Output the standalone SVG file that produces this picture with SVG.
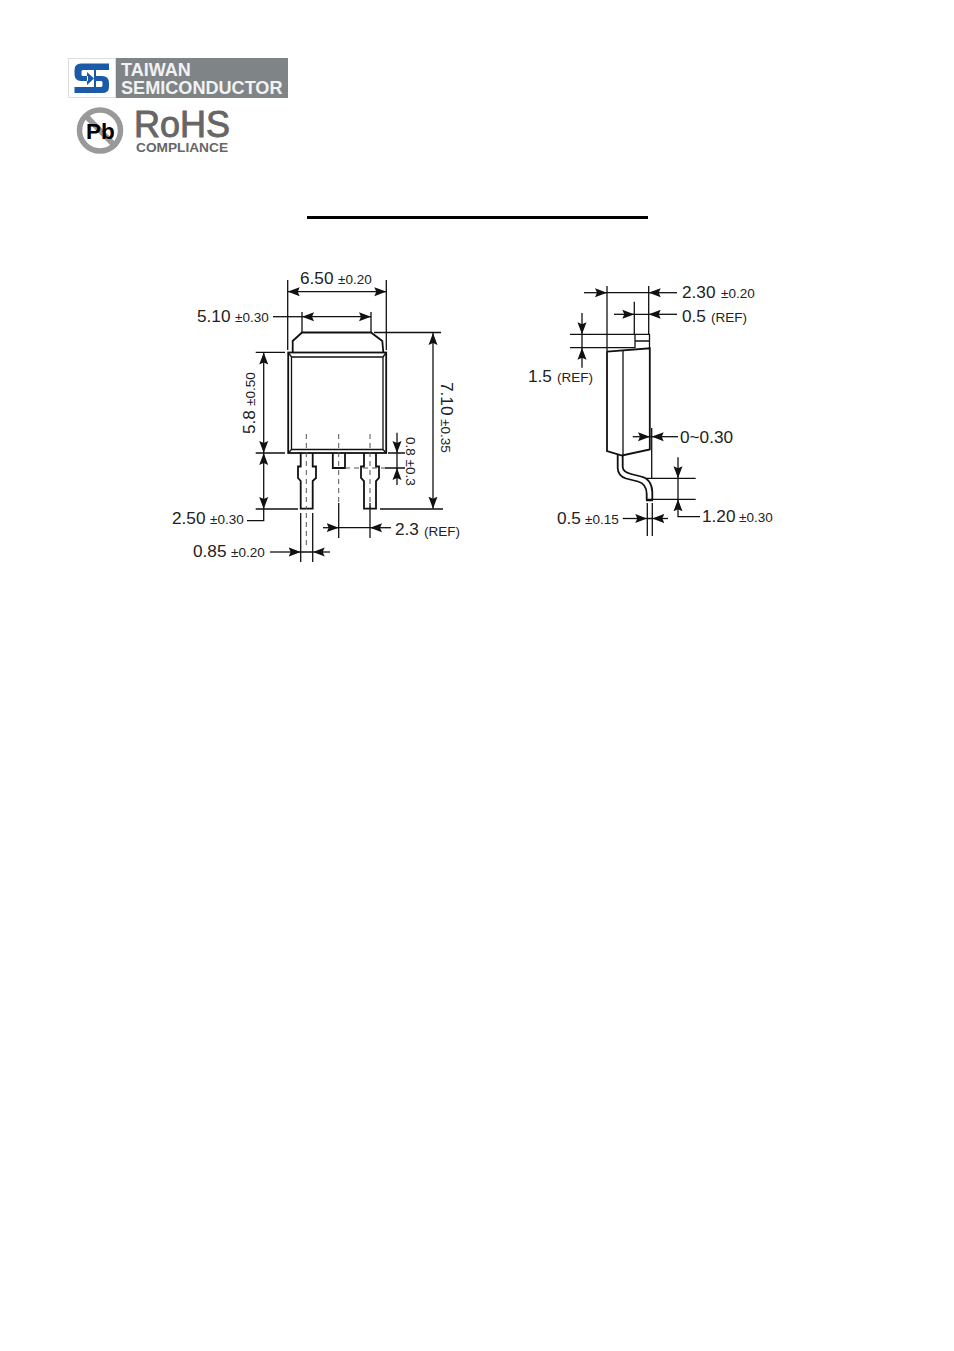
<svg xmlns="http://www.w3.org/2000/svg" width="954" height="1351" viewBox="0 0 954 1351">
<style>
text{font-family:"Liberation Sans",Arial,sans-serif;fill:#222}
.b{font-size:17.200px}.s{font-size:13.500px}
.l{fill:none;stroke:#111;stroke-width:1.300}
.t{fill:none;stroke:#111;stroke-width:1.800}
.d{fill:none;stroke:#555;stroke-width:1;stroke-dasharray:5 4}
</style>
<defs><marker id="a" viewBox="0 0 12 10" refX="12" refY="5" markerWidth="12" markerHeight="10" markerUnits="userSpaceOnUse" orient="auto-start-reverse"><path d="M0 0.500L12 5L0 9.500L2 5Z" fill="#111"/></marker></defs>
<rect width="954" height="1351" fill="#fff"/>
<g id="logo">
<rect x="68.500" y="58.500" width="47" height="39" fill="#fff" stroke="#ddd"/>
<rect x="116" y="58" width="172" height="40" fill="#7f8487"/>
<path d="M109 63.500H81Q74.500 63.500 74.500 70V74Q74.500 81 81 81H88V76H83Q81.500 76 81.500 74.500V71.500Q81.500 70 83 70H109ZM96 76H102Q109 76 109 83V87Q109 93 102 93H74.500V87H101Q102.500 87 102.500 85V82.500Q102.500 81 101 81H96ZM87 72L94 78.500L87 85ZM94 70H96V87H94Z" fill="#1a5aa6"/>
<text x="121" y="76" font-size="18" font-weight="700" style="fill:#f2f2f2">TAIWAN</text>
<text x="121" y="94" font-size="18.100" font-weight="700" style="fill:#f2f2f2">SEMICONDUCTOR</text>
</g>
<g id="rohs">
<circle cx="100" cy="130.500" r="20.500" fill="#fff" stroke="#999" stroke-width="5.500"/>
<path d="M85 115L116 147" stroke="#999" stroke-width="5.500"/>
<text x="86" y="139" font-size="22.500" font-weight="700" style="fill:#000">Pb</text>
<text x="134" y="137" font-size="36" style="fill:#666;stroke:#666;stroke-width:.9">RoHS</text>
<text x="136" y="152" font-size="13.700" font-weight="700" style="fill:#666">COMPLIANCE</text>
</g>
<rect id="rule" x="307" y="216" width="341" height="3" fill="#000"/>
<g id="front-view">
<path class="t" d="M292.700 352V341L302 332.500H371L382.300 341L383.300 352"/>
<rect class="t" x="288.200" y="352.500" width="98" height="100.500"/>
<path class="l" d="M291.500 449.500V357H383V449.500ZM288.200 352.500L291.500 357M386.200 352.500L383 357M288.200 453L291.500 449.500M386.200 453L383 449.500"/>
<path class="t" d="M300.700 453V466.500H298V478L300.700 481V508.700H312.700V481L316 478V466.500H312.700V453M332.800 453V468H345V453M364 453V466.500H361V478L364 481V508.700H376V481L379 478V466.500H376V453"/>
<path class="d" d="M306.300 434V509M338.700 434V503M370 434V509M345 468H385M306.300 513V546"/>
</g>
<g id="side-view">
<path class="t" d="M607 351.700V451L622 455.500L649.800 449.500V348.300L607 351.700"/>
<path class="l" d="M623 350.500V455M635 334.300H649.500V348.300M635 334.300V348M635 341H649.500"/>
<path class="t" d="M617.700 455V468Q618 476 626 478.500L638 481.500Q646.700 484 646.700 494V500M622.700 455V467Q623 472 631 474L641 476.500Q651.800 479 652.300 492V500"/>
<path class="t" d="M646 500H653" style="stroke-width:2.500"/>
</g>
<g id="connectors">
<path class="l" d="M287.700 280V350M386.300 280V350M302 312V332M371 312V332M374 332.500H441M255.700 352.300H285M255.700 453H285M388 453H405M385 468H405M380 509H443M255.700 509H298M300.700 513V562M312.700 513V562M338.700 503V538M370 503V538"/>
<path class="l" marker-start="url(#a)" marker-end="url(#a)" d="M386.300 291.700H287.700"/>
<path class="l" marker-start="url(#a)" marker-end="url(#a)" d="M371 316.700H302"/>
<path class="l" d="M273 316.700H302"/>
<path class="l" marker-start="url(#a)" marker-end="url(#a)" d="M263.700 453V352.500"/>
<path class="l" marker-start="url(#a)" marker-end="url(#a)" d="M263.700 509V453"/>
<path class="l" d="M263.700 509V520.700H247"/>
<path class="l" marker-start="url(#a)" marker-end="url(#a)" d="M433 508.700V333"/>
<path class="l" marker-end="url(#a)" d="M397 432.700V453"/>
<path class="l" marker-end="url(#a)" d="M397 485V468"/>
<path class="l" d="M397 453V468M300.700 552H312.700M338.700 527.700H370M607 292.700H648.700M634.300 314.300H648.700M582 334.300V347.700M650 436.700H651.700M678 478.300V499.300M647.300 518.500H652.300"/>
<path class="l" marker-end="url(#a)" d="M270 552H300.700"/>
<path class="l" marker-end="url(#a)" d="M330 552H312.700"/>
<path class="l" marker-end="url(#a)" d="M323 527.700H338.700"/>
<path class="l" marker-end="url(#a)" d="M391 527.700H370"/>
<path class="l" d="M607 286V352M648.700 286V334M634.300 301.700V334M570 334.300H635M570 347.700H635M651.700 428V478M645 478.300H695.700M652 499.300H695.700M647.300 503V536M652.300 503V536"/>
<path class="l" marker-end="url(#a)" d="M584 292.700H607"/>
<path class="l" marker-end="url(#a)" d="M677 292.700H648.700"/>
<path class="l" marker-end="url(#a)" d="M614 314.300H634.300"/>
<path class="l" marker-end="url(#a)" d="M677 314.300H648.700"/>
<path class="l" marker-end="url(#a)" d="M582 313V334.300"/>
<path class="l" marker-end="url(#a)" d="M582 367.700V347.700"/>
<path class="l" marker-end="url(#a)" d="M632.700 436.700H650"/>
<path class="l" marker-end="url(#a)" d="M678 436.700H651.700"/>
<path class="l" marker-end="url(#a)" d="M678 457.300V478.300"/>
<path class="l" marker-end="url(#a)" d="M700 516.700H678V499.300"/>
<path class="l" marker-end="url(#a)" d="M622.700 518.500H647.300"/>
<path class="l" marker-end="url(#a)" d="M668 518.500H652.300"/>
</g>
<g id="labels">
<text class="b" x="300" y="284">6.50</text><text class="s" x="338" y="284">±0.20</text>
<text class="b" x="197" y="322">5.10</text><text class="s" x="235" y="322">±0.30</text>
<text class="b" x="172" y="524">2.50</text><text class="s" x="210" y="524">±0.30</text>
<text class="b" x="193" y="557">0.85</text><text class="s" x="231" y="557">±0.20</text>
<text class="b" x="395" y="535">2.3</text><text class="s" x="424" y="536">(REF)</text>
<text class="b" transform="translate(255 434) rotate(-90)">5.8</text><text class="s" transform="translate(255 406) rotate(-90)">±0.50</text>
<text class="b" transform="translate(441 382) rotate(90)">7.10</text><text class="s" transform="translate(441 419) rotate(90)">±0.35</text>
<text class="s" transform="translate(406 437) rotate(90)">0.8 ±0.3</text>
<text class="b" x="682" y="298">2.30</text><text class="s" x="721" y="298">±0.20</text>
<text class="b" x="682" y="322">0.5</text><text class="s" x="711" y="322">(REF)</text>
<text class="b" x="528" y="382">1.5</text><text class="s" x="557" y="382">(REF)</text>
<text class="b" x="680" y="443">0~0.30</text>
<text class="b" x="702" y="522">1.20</text><text class="s" x="739" y="522">±0.30</text>
<text class="b" x="557" y="524">0.5</text><text class="s" x="585" y="524">±0.15</text>
</g>
</svg>
